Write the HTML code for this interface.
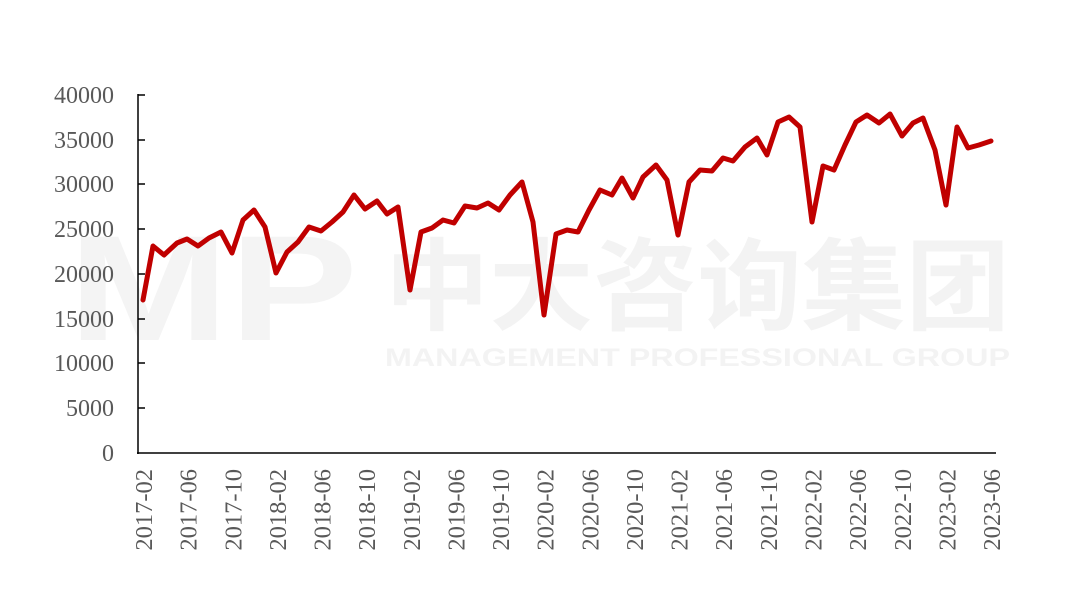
<!DOCTYPE html>
<html><head><meta charset="utf-8"><style>
html,body{margin:0;padding:0;background:#fff;}
svg{display:block;}
</style></head><body>
<svg width="1080" height="598" viewBox="0 0 1080 598" xmlns="http://www.w3.org/2000/svg">
<g font-family="'Liberation Sans','Noto Sans CJK SC',sans-serif" font-weight="bold">
<text x="68" y="340" font-size="150" fill="#f4f4f4" textLength="290" lengthAdjust="spacingAndGlyphs">MP</text>
<text x="385" y="322" font-size="100" fill="#f3f3f3" textLength="625" lengthAdjust="spacingAndGlyphs">中大咨询集团</text>
<text x="385" y="366" font-size="25" fill="#f3f3f3" textLength="625" lengthAdjust="spacingAndGlyphs">MANAGEMENT PROFESSIONAL GROUP</text>
</g>
<g stroke="#000" stroke-width="1.5" fill="none">
<line x1="138" y1="94" x2="138" y2="454"/>
<line x1="137" y1="453" x2="996" y2="453"/>
<path d="M138 95h7M138 140h7M138 184h7M138 229h7M138 274h7M138 319h7M138 363h7M138 408h7"/>
</g>
<g font-family="'Liberation Serif',serif" font-size="24" fill="#595959" text-anchor="end">
<text x="114" y="103">40000</text><text x="114" y="148">35000</text><text x="114" y="192">30000</text>
<text x="114" y="237">25000</text><text x="114" y="282">20000</text><text x="114" y="327">15000</text>
<text x="114" y="371">10000</text><text x="114" y="416">5000</text><text x="114" y="461">0</text>
</g>
<g font-family="'Liberation Serif',serif" font-size="24.5" fill="#595959" text-anchor="end">
<text transform="translate(152,469) rotate(-90)">2017-02</text>
<text transform="translate(196.6,469) rotate(-90)">2017-06</text>
<text transform="translate(241.3,469) rotate(-90)">2017-10</text>
<text transform="translate(285.9,469) rotate(-90)">2018-02</text>
<text transform="translate(330.5,469) rotate(-90)">2018-06</text>
<text transform="translate(375.2,469) rotate(-90)">2018-10</text>
<text transform="translate(419.8,469) rotate(-90)">2019-02</text>
<text transform="translate(464.4,469) rotate(-90)">2019-06</text>
<text transform="translate(509.1,469) rotate(-90)">2019-10</text>
<text transform="translate(553.7,469) rotate(-90)">2020-02</text>
<text transform="translate(598.3,469) rotate(-90)">2020-06</text>
<text transform="translate(643,469) rotate(-90)">2020-10</text>
<text transform="translate(687.6,469) rotate(-90)">2021-02</text>
<text transform="translate(732.2,469) rotate(-90)">2021-06</text>
<text transform="translate(776.9,469) rotate(-90)">2021-10</text>
<text transform="translate(821.5,469) rotate(-90)">2022-02</text>
<text transform="translate(866.1,469) rotate(-90)">2022-06</text>
<text transform="translate(910.8,469) rotate(-90)">2022-10</text>
<text transform="translate(955.4,469) rotate(-90)">2023-02</text>
<text transform="translate(1000,469) rotate(-90)">2023-06</text>
</g>
<polyline fill="none" stroke="#c00000" stroke-width="5" stroke-linejoin="round" stroke-linecap="round" points="
143,300 153,246 164,255 177,243 187,239 198,246 209,238 221,232 232,253 243,220 254,210 265,227 276,273 287,252 298,242 309,227 321,231 332,222 343,212 354,195 365,209 377,201 387,214 398,207 410,290 421,232 432,228 443,220 454,223 465,206 477,208 488,203 499,210 510,195 522,182 533,222 544,315 556,234 567,230 578,232 589,210 600,190 612,195 622,178 633,198 643,177 656,165 667,180 678,235 689,182 700,170 712,171 723,158 733,161 745,147 757,138 767,155 778,122 789,117 800,127 812,222 823,166 834,170 845,145 856,122 867,115 879,123 890,114 902,136 913,123 923,118 935,150 946,205 957,127 968,148 979,145 991,141"/>
</svg>
</body></html>
